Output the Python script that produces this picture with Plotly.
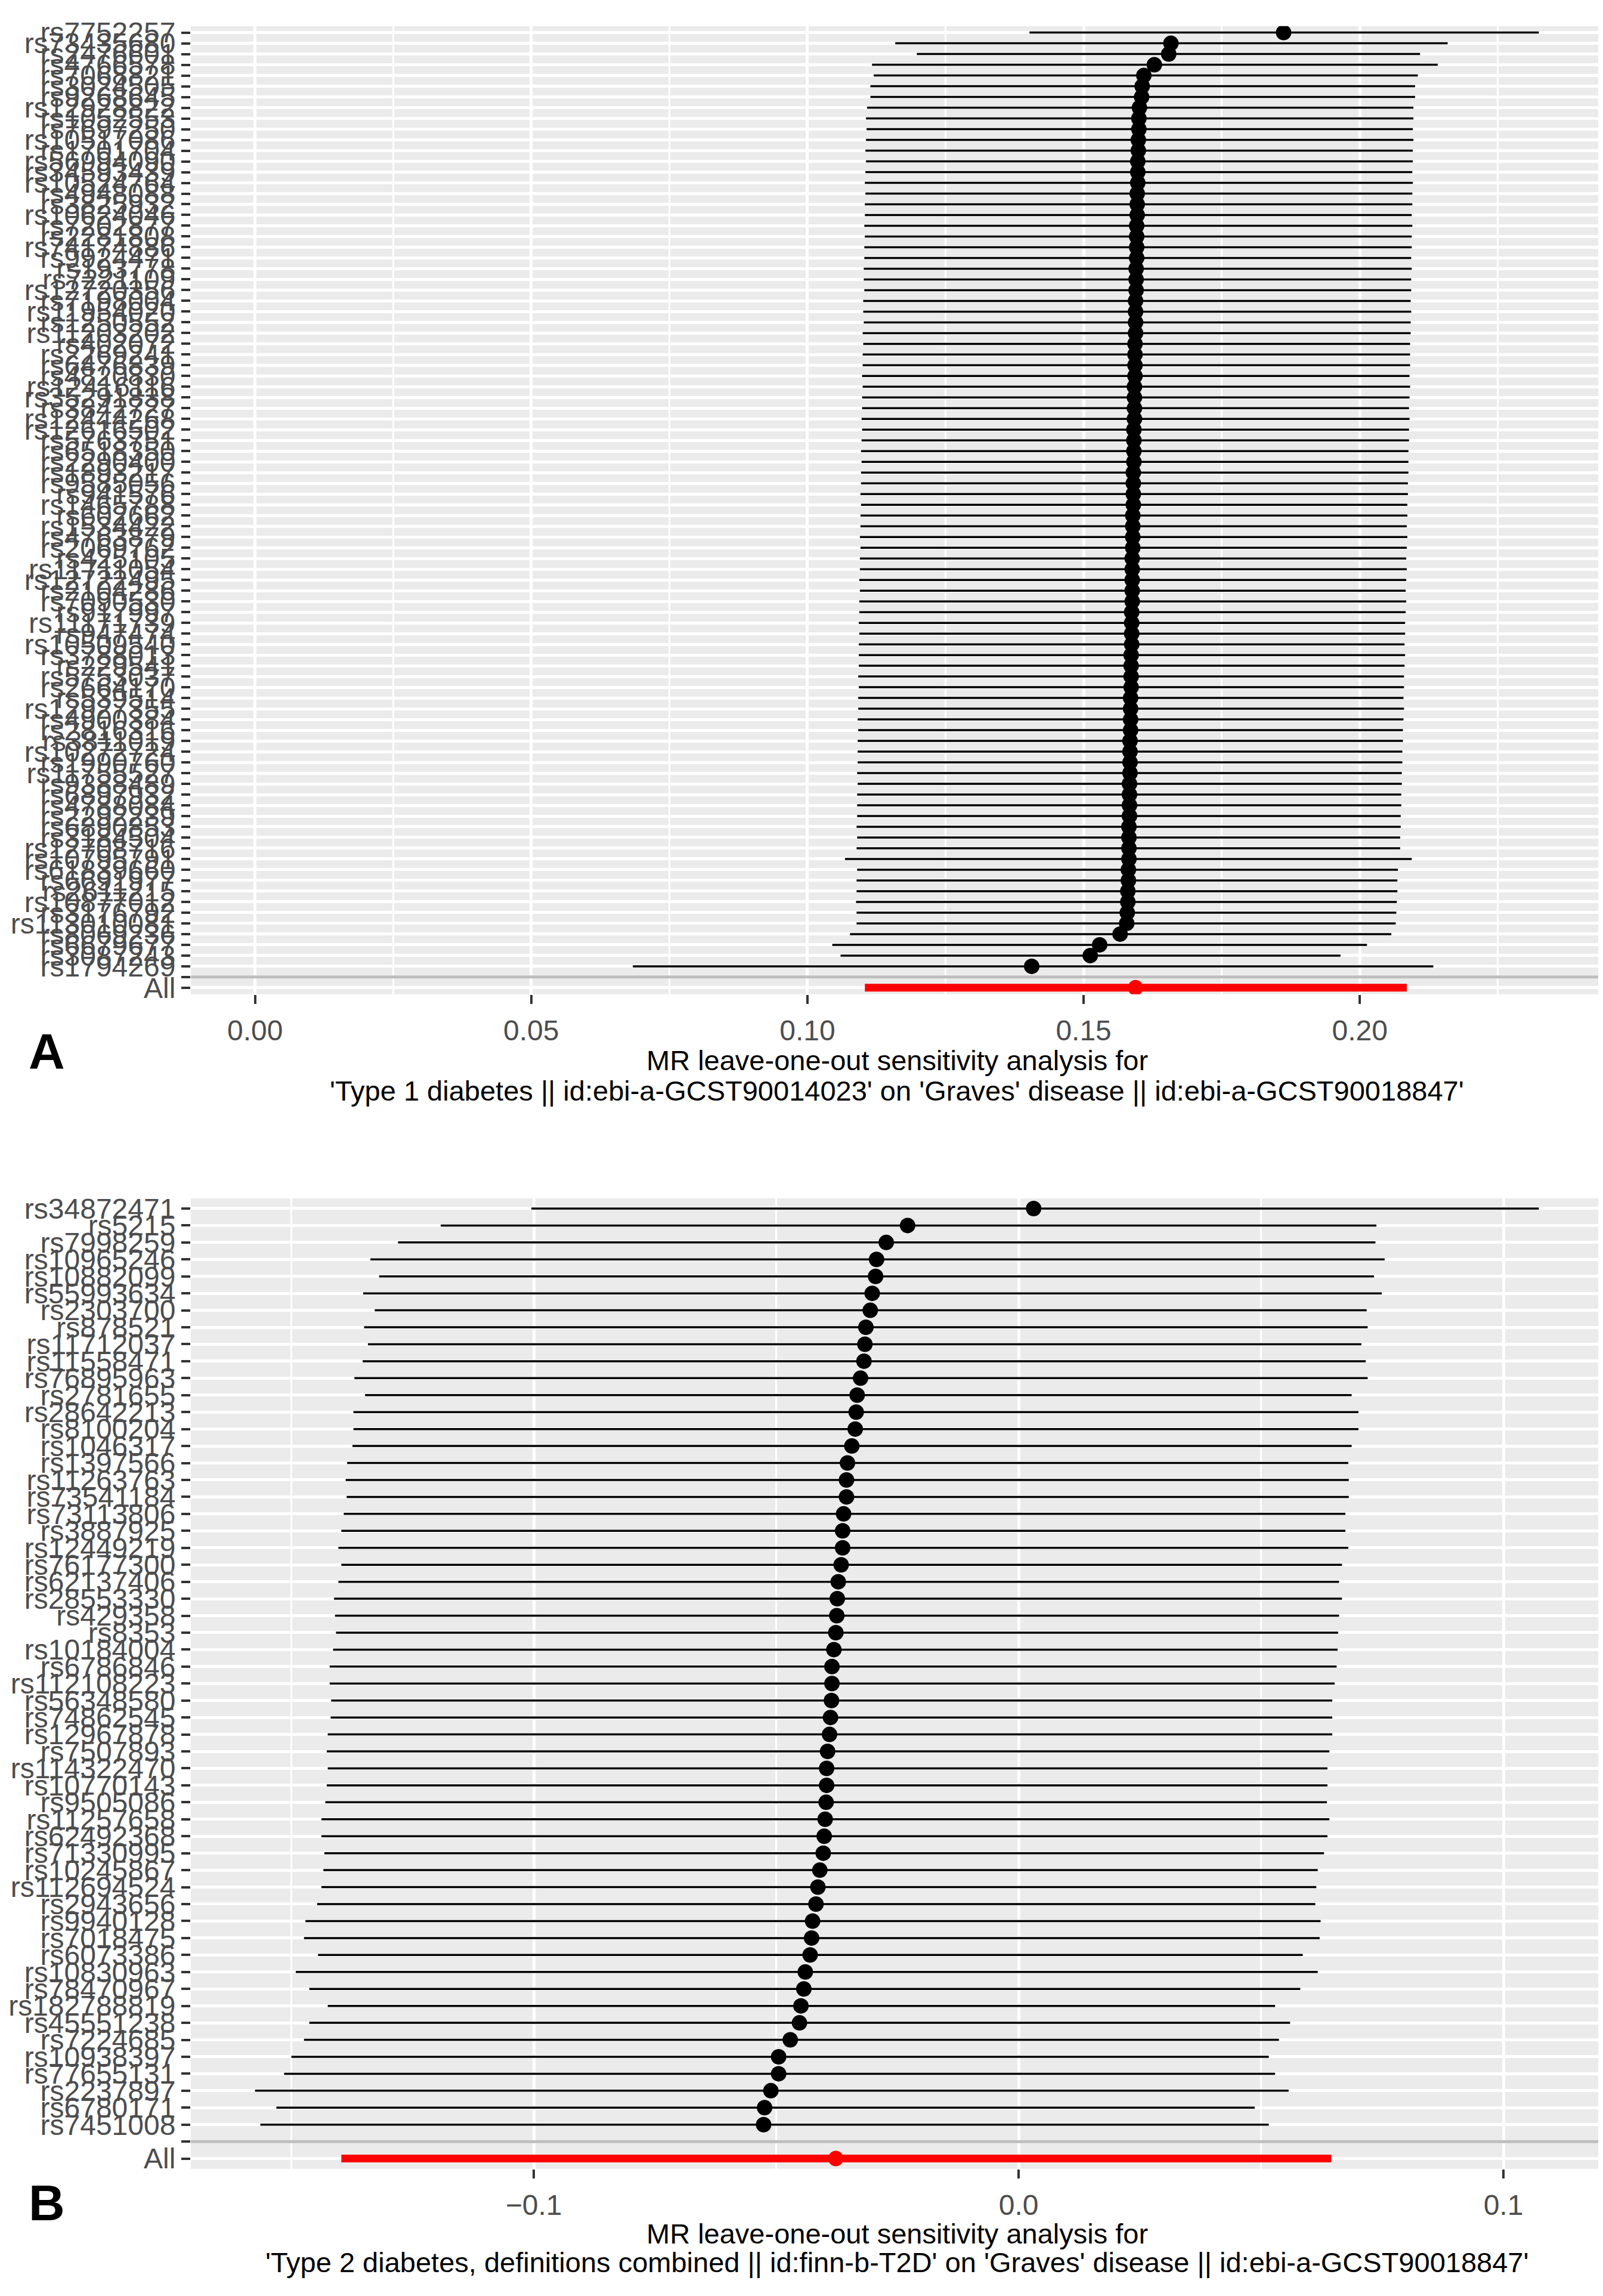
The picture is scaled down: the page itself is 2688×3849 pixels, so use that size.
import plotly.graph_objects as go

W, H = 2688, 3849

# ---- panel A: Type 1 diabetes -> Graves' disease ----
snps_a = [
    "rs7752257", "rs73435680", "rs2476601", "rs4766578", "rs7068821", "rs3024505", "rs9268645", "rs12928822",
    "rs1052553", "rs7697250", "rs10517086", "rs1701704", "rs56994090", "rs34593439", "rs10524764", "rs4948088",
    "rs3825932", "rs10624046", "rs7202877", "rs2281808", "rs74174886", "rs9924471", "rs193778", "rs7221109",
    "rs12720356", "rs7198004", "rs11954020", "rs1250552", "rs11203202", "rs402072", "rs2269241", "rs6476839",
    "rs4820830", "rs12416116", "rs35291838", "rs3842727", "rs12444268", "rs12616502", "rs5763751", "rs6518350",
    "rs2290400", "rs1893217", "rs9585056", "rs941576", "rs1465788", "rs602662", "rs1534422", "rs4763879",
    "rs2069762", "rs425105", "rs11711054", "rs12722495", "rs2104286", "rs7090530", "rs917997", "rs11171739",
    "rs947474", "rs10509540", "rs3788013", "rs229541", "rs5753037", "rs2664170", "rs539514", "rs12927355",
    "rs4900384", "rs2816316", "rs3811019", "rs10272724", "rs1990760", "rs11755527", "rs9388489", "rs6897932",
    "rs4788084", "rs2292239", "rs6890853", "rs3184504", "rs12708716", "rs10795791", "rs61839660", "rs6691977",
    "rs2611215", "rs10877012", "rs3176792", "rs113010081", "rs8069236", "rs6679677", "rs3087243", "rs1794269",
]
b_a = [
    0.1862, 0.1658, 0.1654, 0.1628, 0.1609, 0.1606, 0.1605, 0.1601,
    0.1600, 0.1600, 0.1599, 0.1599, 0.1598, 0.1598, 0.1598, 0.1597, 0.1597, 0.1597, 0.1596, 0.1596,
    0.1596, 0.1596, 0.1595, 0.1595, 0.1595, 0.1594, 0.1594, 0.1594, 0.1594, 0.1593, 0.1593, 0.1593,
    0.1593, 0.1592, 0.1592, 0.1592, 0.1592, 0.1591, 0.1591, 0.1591, 0.1591, 0.1590, 0.1590, 0.1590,
    0.1590, 0.1589, 0.1589, 0.1589, 0.1589, 0.1588, 0.1588, 0.1588, 0.1588, 0.1588, 0.1587, 0.1587,
    0.1587, 0.1587, 0.1586, 0.1586, 0.1586, 0.1586, 0.1585, 0.1585, 0.1585, 0.1585, 0.1584, 0.1584,
    0.1584, 0.1584, 0.1583, 0.1583, 0.1583, 0.1583, 0.1582, 0.1582, 0.1582,
    0.1582,
    0.1581, 0.1581, 0.1580, 0.1580, 0.1579, 0.1578,
    0.1566, 0.1529, 0.1512, 0.1406,
]
lo_a = [
    0.1402, 0.1159, 0.1198, 0.1117, 0.1120, 0.1114, 0.1114, 0.1108,
    0.1106, 0.1107, 0.1106, 0.1105, 0.1106, 0.1105, 0.1104, 0.1105, 0.1104, 0.1104, 0.1103, 0.1104,
    0.1103, 0.1103, 0.1102, 0.1102, 0.1103, 0.1101, 0.1101, 0.1102, 0.1100, 0.1101, 0.1100, 0.1100,
    0.1099, 0.1100, 0.1099, 0.1099, 0.1098, 0.1099, 0.1098, 0.1097, 0.1098, 0.1097, 0.1097, 0.1096,
    0.1097, 0.1096, 0.1096, 0.1095, 0.1096, 0.1095, 0.1095, 0.1094, 0.1095, 0.1094, 0.1094, 0.1093,
    0.1094, 0.1093, 0.1093, 0.1093, 0.1092, 0.1093, 0.1092, 0.1092, 0.1091, 0.1092, 0.1091, 0.1091,
    0.1091, 0.1090, 0.1091, 0.1090, 0.1090, 0.1090, 0.1089, 0.1090, 0.1089,
    0.1068,
    0.1090, 0.1089, 0.1089, 0.1088, 0.1089, 0.1089,
    0.1077, 0.1045, 0.1060, 0.0684,
]
up_a = [
    0.2324, 0.2159, 0.2109, 0.2141, 0.2105, 0.2100, 0.2100, 0.2097,
    0.2097, 0.2096, 0.2097, 0.2096, 0.2096, 0.2095, 0.2096, 0.2095, 0.2095, 0.2094, 0.2095, 0.2094,
    0.2094, 0.2093, 0.2094, 0.2093, 0.2093, 0.2092, 0.2093, 0.2092, 0.2092, 0.2091, 0.2091, 0.2091,
    0.2090, 0.2091, 0.2090, 0.2089, 0.2090, 0.2089, 0.2089, 0.2088, 0.2088, 0.2088, 0.2087, 0.2087,
    0.2086, 0.2086, 0.2085, 0.2086, 0.2085, 0.2084, 0.2085, 0.2084, 0.2083, 0.2084, 0.2083, 0.2082,
    0.2082, 0.2081, 0.2082, 0.2081, 0.2080, 0.2080, 0.2079, 0.2080, 0.2079, 0.2078, 0.2078, 0.2077,
    0.2077, 0.2076, 0.2076, 0.2075, 0.2075, 0.2074, 0.2074, 0.2073, 0.2073,
    0.2094,
    0.2069, 0.2068, 0.2068, 0.2067, 0.2066, 0.2065,
    0.2057, 0.2013, 0.1965, 0.2133,
]
all_a = [0.1594, 0.1104, 0.2085]   # b, lo, up
title_a = ["MR leave-one-out sensitivity analysis for",
           "'Type 1 diabetes || id:ebi-a-GCST90014023' on 'Graves' disease || id:ebi-a-GCST90018847'"]

# ---- panel B: Type 2 diabetes -> Graves' disease ----
snps_b = [
    "rs34872471", "rs5215", "rs7998259", "rs10965246", "rs10882099", "rs55993634", "rs2303700", "rs878521",
    "rs11712037", "rs11558471", "rs76895963", "rs2781655", "rs28642213", "rs8100204", "rs1046317", "rs1397566",
    "rs11263763", "rs73541184", "rs73113806", "rs3887925", "rs12449219", "rs76177300", "rs62137406", "rs28553330",
    "rs429358", "rs8353", "rs10184004", "rs6786846", "rs112108223", "rs56348580", "rs74862545", "rs12967878",
    "rs7507893", "rs114322470", "rs10770143", "rs9505086", "rs11257658", "rs62492368", "rs71330995", "rs10245867",
    "rs112694524", "rs2943656", "rs9940128", "rs7018475", "rs6073386", "rs10830963", "rs78470967", "rs182788819",
    "rs45551238", "rs7224685", "rs10938397", "rs77655131", "rs2237897", "rs6780171", "rs7451008",
]
b_b = [
    0.0031, -0.0229, -0.0273, -0.0293, -0.0295, -0.0302, -0.0306, -0.0315, -0.0317, -0.0319,
    -0.0326, -0.0333, -0.0335, -0.0337, -0.0344, -0.0353, -0.0355, -0.0355, -0.0361, -0.0363,
    -0.0363, -0.0366, -0.0372, -0.0374, -0.0375, -0.0377, -0.0381, -0.0385, -0.0385, -0.0386,
    -0.0388, -0.0390, -0.0394, -0.0396, -0.0396, -0.0397, -0.0399, -0.0401, -0.0403, -0.0410,
    -0.0414, -0.0418, -0.0425, -0.0427, -0.0430, -0.0440, -0.0443, -0.0449, -0.0452, -0.0471,
    -0.0495, -0.0495, -0.0511, -0.0524, -0.0526,
]
lo_b = [
    -0.1005, -0.1192, -0.1280, -0.1337, -0.1319, -0.1352, -0.1328, -0.1350, -0.1342, -0.1353,
    -0.1370, -0.1348, -0.1372, -0.1372, -0.1374, -0.1385, -0.1388, -0.1386, -0.1392, -0.1397,
    -0.1403, -0.1397, -0.1403, -0.1412, -0.1410, -0.1408, -0.1414, -0.1421, -0.1421, -0.1418,
    -0.1419, -0.1425, -0.1427, -0.1425, -0.1427, -0.1430, -0.1438, -0.1438, -0.1432, -0.1434,
    -0.1438, -0.1447, -0.1471, -0.1474, -0.1445, -0.1491, -0.1463, -0.1425, -0.1463, -0.1474,
    -0.1500, -0.1515, -0.1575, -0.1531, -0.1564,
]
up_b = [
    0.1073, 0.0738, 0.0736, 0.0755, 0.0733, 0.0749, 0.0718, 0.0720, 0.0707, 0.0716,
    0.0720, 0.0687, 0.0701, 0.0701, 0.0687, 0.0680, 0.0681, 0.0681, 0.0674, 0.0674,
    0.0680, 0.0667, 0.0661, 0.0667, 0.0661, 0.0659, 0.0658, 0.0656, 0.0652, 0.0647,
    0.0647, 0.0647, 0.0641, 0.0637, 0.0637, 0.0636, 0.0641, 0.0637, 0.0630, 0.0617,
    0.0614, 0.0612, 0.0623, 0.0621, 0.0586, 0.0617, 0.0581, 0.0529, 0.0560, 0.0537,
    0.0516, 0.0529, 0.0557, 0.0487, 0.0516,
]
all_b = [-0.0377, -0.1397, 0.0645]
title_b = ["MR leave-one-out sensitivity analysis for",
           "'Type 2 diabetes, definitions combined || id:finn-b-T2D' on 'Graves' disease || id:ebi-a-GCST90018847'"]

FONT = "Liberation Sans, Arial, sans-serif"
X_DOM = [312 / W, 2680 / W]


def py(px):
    # pixel row from top -> paper coordinate
    return 1 - px / H


fig = go.Figure()


def add_panel(n, snps, b, lo, up, allv, titles, letter, top_px, bot_px, dtick, fmt, title_px, letter_px):
    xa = "x" if n == 1 else "x%d" % n
    ya = "y" if n == 1 else "y%d" % n
    cats = snps + [" ", "All"]

    xmin = min(lo + [allv[1], 0])
    xmax = max(up + [allv[2], 0])
    pad = 0.05 * (xmax - xmin)
    xr = [xmin - pad, xmax + pad]

    xs, ys = [], []
    for s, l, u in zip(snps, lo, up):
        xs += [l, u, None]
        ys += [s, s, None]
    fig.add_trace(go.Scatter(x=xs, y=ys, mode="lines", line=dict(color="black", width=3.5),
                             xaxis=xa, yaxis=ya, hoverinfo="skip", showlegend=False))
    fig.add_trace(go.Scatter(x=[allv[1], allv[2]], y=["All", "All"], mode="lines",
                             line=dict(color="#FF0000", width=13),
                             xaxis=xa, yaxis=ya, hoverinfo="skip", showlegend=False))
    fig.add_trace(go.Scatter(x=b, y=snps, mode="markers", marker=dict(color="black", size=26),
                             xaxis=xa, yaxis=ya, showlegend=False))
    fig.add_trace(go.Scatter(x=[allv[0]], y=["All"], mode="markers", marker=dict(color="#FF0000", size=26),
                             xaxis=xa, yaxis=ya, showlegend=False))
    # grey separator on the blank row
    fig.add_trace(go.Scatter(x=xr, y=[" ", " "], mode="lines", line=dict(color="#BEBEBE", width=5),
                             xaxis=xa, yaxis=ya, hoverinfo="skip", showlegend=False))

    fig.add_shape(type="line", xref=xa, yref=ya + " domain", x0=0, x1=0, y0=0, y1=1,
                  line=dict(color="black", width=3.5, dash="dot"), layer="below")

    ax_common = dict(showline=False, zeroline=False, ticks="outside", ticklen=15, tickwidth=4,
                     tickcolor="#333333", gridcolor="white", gridwidth=5,
                     tickfont=dict(family=FONT, size=48, color="#4D4D4D"))
    fig.layout[("xaxis" if n == 1 else "xaxis%d" % n)] = dict(
        domain=X_DOM, anchor=ya, range=xr, dtick=dtick, tick0=0, tickformat=fmt,
        minor=dict(dtick=dtick / 2, showgrid=True, gridcolor="white", gridwidth=2.5),
        ticklabelstandoff=4, **ax_common)
    fig.layout[("yaxis" if n == 1 else "yaxis%d" % n)] = dict(
        domain=[py(bot_px), py(top_px)], anchor=xa, type="category",
        categoryorder="array", categoryarray=cats,
        range=[len(cats) - 1 + 0.6, -0.6],
        tickmode="array", tickvals=cats, ticktext=snps + ["", "All"],
        **ax_common)

    xc = (X_DOM[0] + X_DOM[1]) / 2
    for t, yy in zip(titles, title_px):
        fig.add_annotation(text=t, x=xc, y=py(yy), xref="paper", yref="paper",
                           xanchor="center", yanchor="middle", showarrow=False,
                           font=dict(family=FONT, size=47, color="black"))
    fig.add_annotation(text="<b>%s</b>" % letter, x=70 / W, y=py(letter_px), xref="paper", yref="paper",
                       xanchor="center", yanchor="middle", showarrow=False,
                       font=dict(family=FONT, size=84, color="black"))


add_panel(1, snps_a, b_a, lo_a, up_a, all_a, title_a, "A", 21, 1657, 0.05, ".2f", [1769, 1820], 1754)
add_panel(2, snps_b, b_b, lo_b, up_b, all_b, title_b, "B", 2002, 3642, 0.1, ".1f", [3752, 3800], 3700)

fig.update_layout(width=W, height=H, autosize=False, margin=dict(l=0, r=0, t=0, b=0),
                  paper_bgcolor="white", plot_bgcolor="#EBEBEB", showlegend=False,
                  font=dict(family=FONT))

fig.write_html("out.html")
